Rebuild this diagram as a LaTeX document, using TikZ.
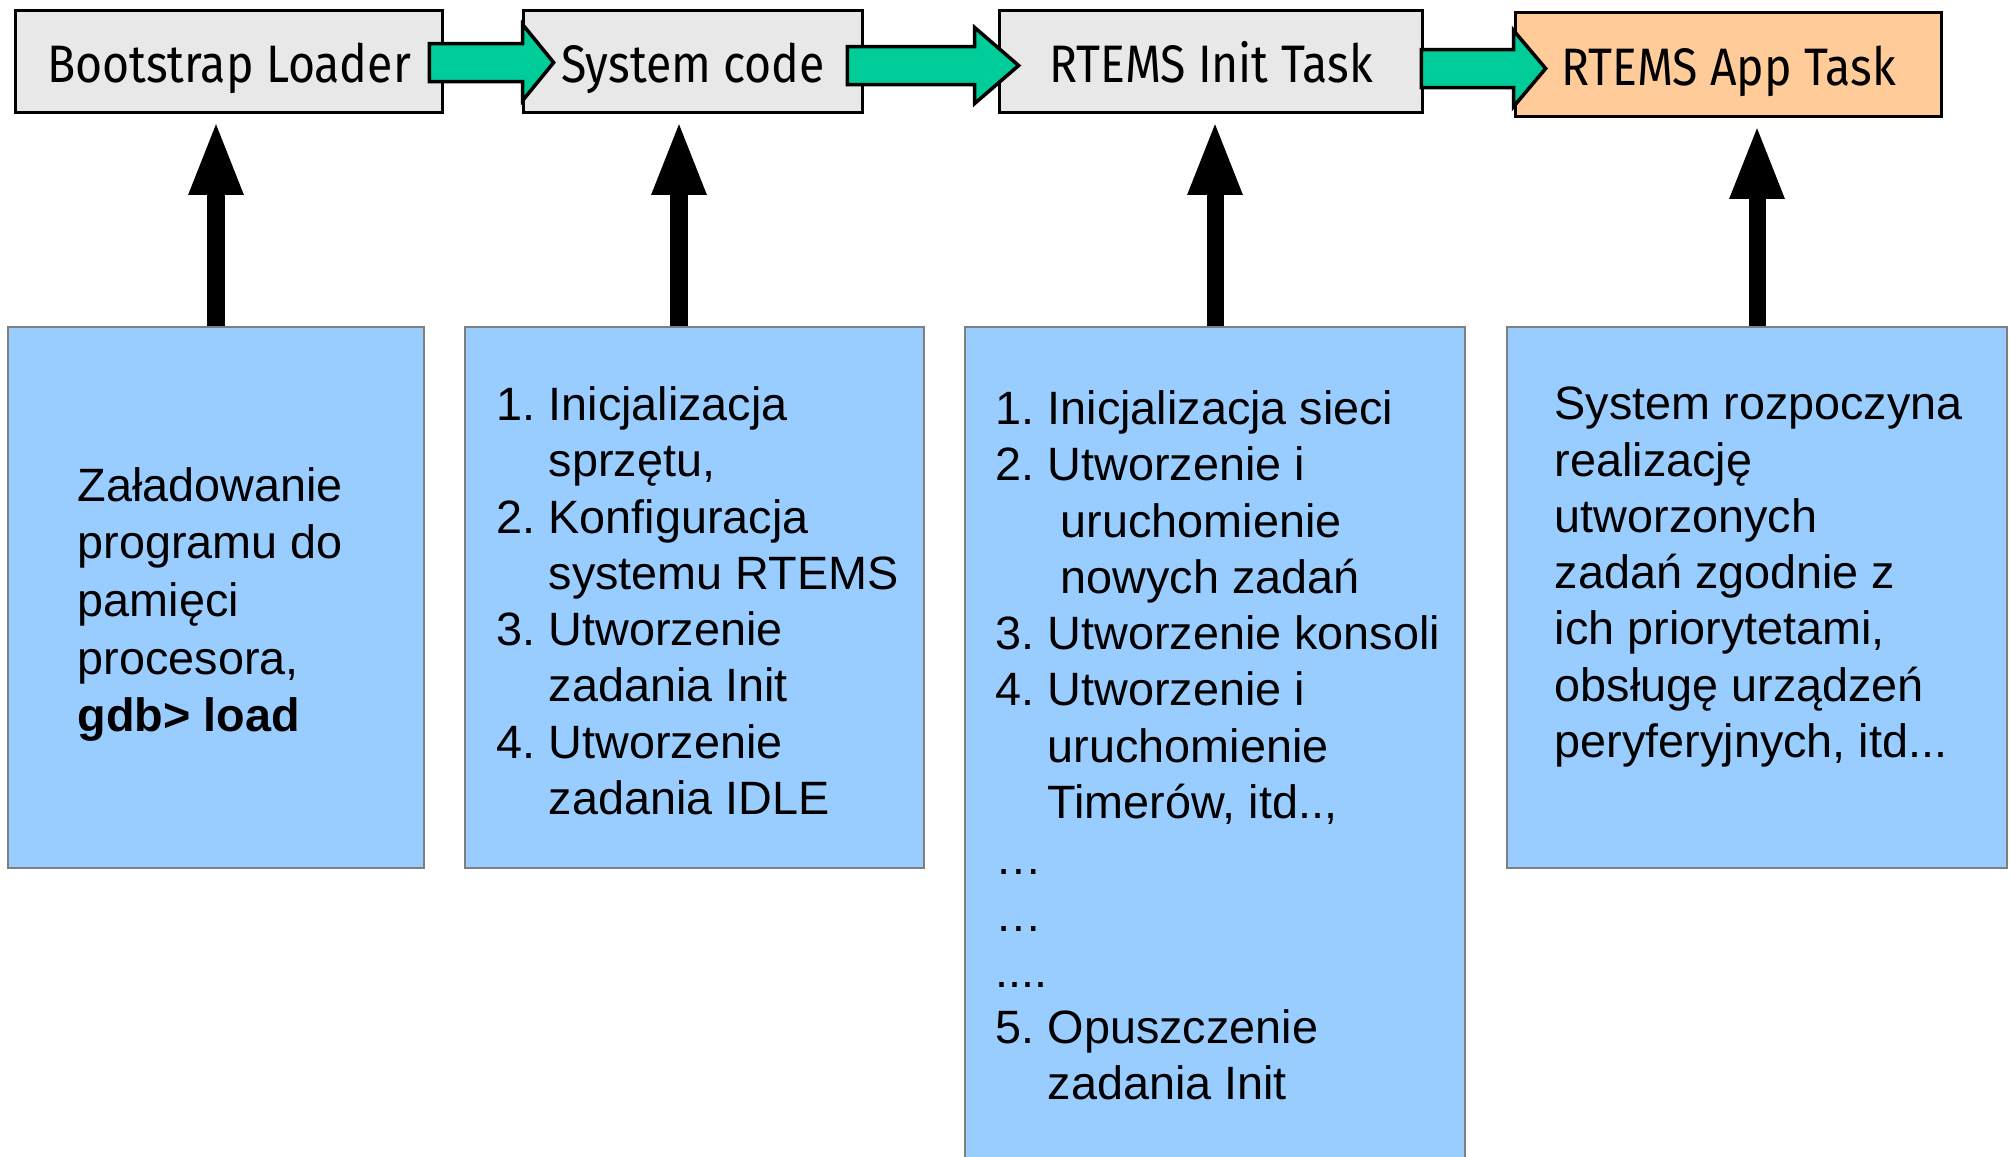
\documentclass[tikz,border=0pt]{standalone}
\usepackage{fontspec}
\setmainfont{Liberation Sans}
\newfontfamily\titlefont[FakeStretch=0.88]{Fira Sans}
\usetikzlibrary{arrows.meta,calc}

\definecolor{stagegray}{HTML}{E8E8E8}
\definecolor{apporange}{HTML}{FFCC99}
\definecolor{flowgreen}{HTML}{00CC99}
\definecolor{infoblue}{HTML}{99CCFF}
\definecolor{boxgray}{HTML}{7F7F7F}

\newcommand{\ind}{\hphantom{1.\ }}
\newcommand{\flowarrow}[6]{%
  \filldraw[flow] ($(#1.east)+(#3,#4-19)$) -- ($(#1.east-|#2.west)+(#5,#4-19)$)
    -- ($(#1.east-|#2.west)+(#5,#4-38)$) -- ($(#1.east-|#2.west)+(#5+#6,#4)$)
    -- ($(#1.east-|#2.west)+(#5,#4+38)$) -- ($(#1.east-|#2.west)+(#5,#4+19)$)
    -- ($(#1.east)+(#3,#4+19)$) -- cycle;}

\tikzset{
  stage/.style={draw=black, line width=1pt, fill=stagegray, inner sep=0pt,
    font=\titlefont\fontsize{15}{18}\selectfont, text height=11.7pt, text depth=0pt},
  infobox/.style={draw=boxgray, line width=0.5pt, fill=infoblue, inner sep=0pt},
  infotext/.style={anchor=north west, inner sep=0pt, align=left,
    font=\fontsize{13.3}{16}\selectfont\frenchspacing},
  liftarrow/.style={line width=4.84pt, -{Triangle[length=7.4mm,width=5mm]}, shorten >=0.65mm},
  flow/.style={draw=black, line width=1pt, fill=flowgreen, line join=miter}
}

\begin{document}
\begin{tikzpicture}[x=0.01cm,y=-0.01cm]
\useasboundingbox (0,0) rectangle (2010,1156);

\node[stage, minimum width=4.27cm, minimum height=1.02cm] (boot) at (229,61.5) {Bootstrap Loader};
\node[stage, minimum width=3.39cm, minimum height=1.02cm] (sys) at (693,61.5) {System code};
\node[stage, minimum width=4.23cm, minimum height=1.02cm] (init) at (1211,61.5) {RTEMS Init Task};
\node[stage, fill=apporange, minimum width=4.26cm, minimum height=1.04cm] (app) at (1728.5,64.5) {RTEMS App Task};

\flowarrow{boot}{sys}{-15}{1}{1}{31}
\flowarrow{sys}{init}{-17}{4}{-23}{44}
\flowarrow{init}{app}{-3}{7}{0}{32}

\node[infobox, minimum width=4.16cm, minimum height=5.41cm] (info1) at (216,597.5) {};
\node[infobox, minimum width=4.59cm, minimum height=5.41cm] (info2) at (694.5,597.5) {};
\node[infobox, minimum width=5.00cm, minimum height=8.35cm] (info3) at (1215,744.5) {};
\node[infobox, minimum width=5.00cm, minimum height=5.41cm] (info4) at (1757,597.5) {};

\node[infotext, font=\fontsize{13.3}{16.4}\selectfont] (load) at (77,466.5)
  {Załadowanie\\programu do\\pamięci\\procesora,\\\textbf{gdb> load}};
\node[infotext] (setup) at (496,386)
  {1. Inicjalizacja\\\ind sprzętu,\\2. Konfiguracja\\\ind systemu RTEMS\\3. Utworzenie\\\ind zadania Init\\4. Utworzenie\\\ind zadania IDLE};
\node[infotext] (tasks) at (995,390)
  {1. Inicjalizacja sieci\\2. Utworzenie i\\\ind\ uruchomienie\\\ind\ nowych zadań\\3. Utworzenie konsoli\\4. Utworzenie i\\\ind uruchomienie\\\ind Timerów, itd..,\\…\\…\\....\\5. Opuszczenie\\\ind zadania Init};
\node[infotext] (run) at (1554,386.5)
  {System rozpoczyna\\realizację\\utworzonych\\zadań zgodnie z\\ich priorytetami,\\obsługę urządzeń\\peryferyjnych, itd...};

\draw[liftarrow] (info1.north) -- (info1.north |- boot.south);
\draw[liftarrow] ([xshift=-1.55mm]info2.north) -- ([xshift=-1.55mm]info2.north |- sys.south);
\draw[liftarrow] (info3.north) -- (info3.north |- init.south);
\draw[liftarrow] (info4.north) -- (info4.north |- app.south);
\end{tikzpicture}
\end{document}
